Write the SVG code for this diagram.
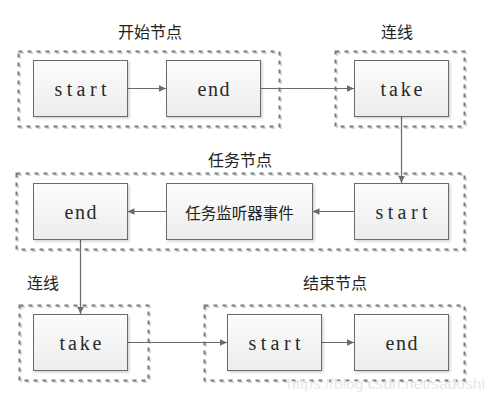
<svg xmlns="http://www.w3.org/2000/svg" width="495" height="401" viewBox="0 0 495 401">
<style>
.grp{fill:none;stroke:#7a7a7a;stroke-width:2;stroke-dasharray:4 5}
.grps{fill:none;stroke:#d8d8d8;stroke-width:2;stroke-dasharray:4 5}
.node{fill:url(#g);stroke:#6b6b6b;stroke-width:1;filter:url(#sh)}
.lbl{font-family:"Liberation Serif",serif;font-size:20px;fill:#2a2a2a;text-anchor:middle}
.cjk{font-family:"Noto Sans CJK SC",sans-serif;font-size:15.5px;fill:#222;text-anchor:middle;dominant-baseline:central}
.ttl{font-family:"Noto Sans CJK SC",sans-serif;font-size:16px;fill:#222;text-anchor:middle;dominant-baseline:central}
.edge{fill:none;stroke:#6b6b6b;stroke-width:1.2;marker-end:url(#ar)}
</style>
<defs>
<linearGradient id="g" x1="0" y1="0" x2="0" y2="1">
<stop offset="0" stop-color="#fdfdfd"/>
<stop offset="1" stop-color="#ececec"/>
</linearGradient>
<filter id="sh" x="-10%" y="-10%" width="130%" height="130%">
<feDropShadow dx="1.5" dy="1.5" stdDeviation="1" flood-color="#000" flood-opacity="0.18"/>
</filter>
<marker id="ar" markerWidth="8" markerHeight="8" refX="7" refY="4" orient="auto" markerUnits="userSpaceOnUse">
<path d="M0,0.8 L7,4 L0,7.2 Z" fill="#6b6b6b"/>
</marker>
</defs>
<rect width="495" height="401" fill="#fff"/>

<g id="group-start">
<rect class="grps" x="20" y="53" width="261" height="75"/>
<rect class="grp" x="18.5" y="51.5" width="261" height="75"/>
<text class="ttl" x="150" y="31">开始节点</text>
</g>
<g id="group-take1">
<rect class="grps" x="337" y="53" width="129" height="75"/>
<rect class="grp" x="335.5" y="51.5" width="129" height="75"/>
<text class="ttl" x="397" y="31">连线</text>
</g>
<g id="group-task">
<rect class="grps" x="18" y="175" width="448" height="76"/>
<rect class="grp" x="16.5" y="173.5" width="448" height="76"/>
<text class="ttl" x="240" y="159">任务节点</text>
</g>
<g id="group-take2">
<rect class="grps" x="21" y="307" width="129" height="75"/>
<rect class="grp" x="19.5" y="305.5" width="129" height="75"/>
<text class="ttl" x="43" y="282">连线</text>
</g>
<g id="group-end">
<rect class="grps" x="206" y="307" width="260" height="75"/>
<rect class="grp" x="204.5" y="305.5" width="260" height="75"/>
<text class="ttl" x="335" y="282">结束节点</text>
</g>

<g id="connectors">
<line class="edge" x1="127.5" y1="88.5" x2="166" y2="88.5"/>
<line class="edge" x1="260.5" y1="88.5" x2="354" y2="88.5"/>
<line class="edge" x1="401.5" y1="116.5" x2="401.5" y2="183"/>
<line class="edge" x1="354" y1="211.5" x2="312.5" y2="211.5"/>
<line class="edge" x1="166" y1="211.5" x2="127.5" y2="211.5"/>
<line class="edge" x1="80.5" y1="239.5" x2="80.5" y2="314"/>
<line class="edge" x1="128" y1="342.5" x2="227" y2="342.5"/>
<line class="edge" x1="321.5" y1="342.5" x2="354" y2="342.5"/>
</g>

<g id="n-start1"><rect class="node" x="33.5" y="60.5" width="94" height="56"/><text class="lbl" x="80.5" y="96" textLength="52" lengthAdjust="spacing">start</text></g>
<g id="n-end1"><rect class="node" x="166.5" y="60.5" width="94" height="56"/><text class="lbl" x="213.5" y="96" textLength="32" lengthAdjust="spacing">end</text></g>
<g id="n-take1"><rect class="node" x="354.5" y="60.5" width="94" height="56"/><text class="lbl" x="401.5" y="96" textLength="42" lengthAdjust="spacing">take</text></g>
<g id="n-start2"><rect class="node" x="354.5" y="183.5" width="94" height="56"/><text class="lbl" x="401.5" y="219" textLength="52" lengthAdjust="spacing">start</text></g>
<g id="n-listener"><rect class="node" x="166.5" y="183.5" width="146" height="56"/><text class="cjk" x="239.5" y="211.5">任务监听器事件</text></g>
<g id="n-end2"><rect class="node" x="33.5" y="183.5" width="94" height="56"/><text class="lbl" x="80.5" y="219" textLength="32" lengthAdjust="spacing">end</text></g>
<g id="n-take2"><rect class="node" x="33.5" y="314.5" width="94" height="56"/><text class="lbl" x="80.5" y="350" textLength="42" lengthAdjust="spacing">take</text></g>
<g id="n-start3"><rect class="node" x="227.5" y="314.5" width="94" height="56"/><text class="lbl" x="274.5" y="350" textLength="52" lengthAdjust="spacing">start</text></g>
<g id="n-end3"><rect class="node" x="354.5" y="314.5" width="94" height="56"/><text class="lbl" x="401.5" y="350" textLength="32" lengthAdjust="spacing">end</text></g>

<text x="287" y="389" font-family="Liberation Sans,Arial,sans-serif" font-size="14.5" fill="#d6d6d6" stroke="#fff" stroke-width="0.4" textLength="198" lengthAdjust="spacingAndGlyphs">https://blog.csdn.net/sadoshi</text>
</svg>
